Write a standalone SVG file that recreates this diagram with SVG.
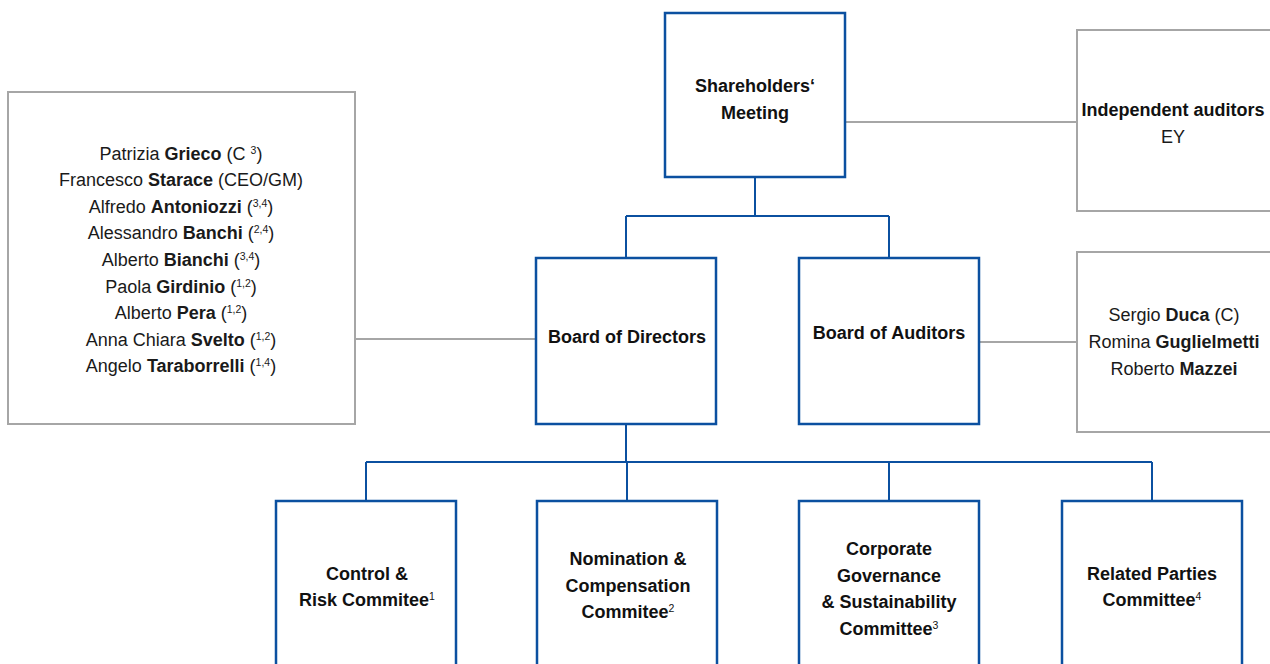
<svg xmlns="http://www.w3.org/2000/svg" width="1270" height="664" viewBox="0 0 1270 664">
<style>
.bx{fill:#fff;stroke:#0b50a0;stroke-width:2.5}
.gb{fill:#fff;stroke:#a6a6a6;stroke-width:2}
.bl{fill:none;stroke:#0b50a0;stroke-width:2}
.gl{fill:none;stroke:#a6a6a6;stroke-width:2}
.t{font-family:"Liberation Sans",Arial,sans-serif;font-size:18px;text-anchor:middle;fill:#1a1a1a}
.h{font-family:"Liberation Sans",Arial,sans-serif;font-size:18px;font-weight:bold;text-anchor:middle;fill:#111}
.b{font-weight:bold}
.s{font-size:10.5px}
</style>
<rect width="1270" height="664" fill="#fff"/>
<g id="connectors">
<path class="bl" d="M755 177V216M626 216H889M626 216V258M889 216V258"/>
<path class="bl" d="M626 424V462M366 462H1152M366 462V501M627 462V501M889 462V501M1152 462V501"/>
<path class="gl" d="M355 339H536M845 122H1077M979 342H1077"/>
</g>
<g id="shareholders">
<rect class="bx" x="665" y="13" width="180" height="164"/>
<text class="h" x="755" y="91.5">Shareholders‘</text>
<text class="h" x="755" y="118.5">Meeting</text>
</g>
<g id="independent-auditors">
<rect class="gb" x="1077" y="30" width="230" height="181"/>
<text class="h" x="1173" y="115.5">Independent auditors</text>
<text class="t" x="1173" y="142.5">EY</text>
</g>
<g id="directors-list">
<rect class="gb" x="8" y="92" width="347" height="332"/>
<text class="t" x="181" y="159.5">Patrizia <tspan class="b">Grieco</tspan> (C <tspan class="s" dy="-6">3</tspan><tspan dy="6">)</tspan></text>
<text class="t" x="181" y="186.1">Francesco <tspan class="b">Starace</tspan> (CEO/GM)</text>
<text class="t" x="181" y="212.7">Alfredo <tspan class="b">Antoniozzi</tspan> (<tspan class="s" dy="-6">3,4</tspan><tspan dy="6">)</tspan></text>
<text class="t" x="181" y="239.3">Alessandro <tspan class="b">Banchi</tspan> (<tspan class="s" dy="-6">2,4</tspan><tspan dy="6">)</tspan></text>
<text class="t" x="181" y="265.9">Alberto <tspan class="b">Bianchi</tspan> (<tspan class="s" dy="-6">3,4</tspan><tspan dy="6">)</tspan></text>
<text class="t" x="181" y="292.5">Paola <tspan class="b">Girdinio</tspan> (<tspan class="s" dy="-6">1,2</tspan><tspan dy="6">)</tspan></text>
<text class="t" x="181" y="319.1">Alberto <tspan class="b">Pera</tspan> (<tspan class="s" dy="-6">1,2</tspan><tspan dy="6">)</tspan></text>
<text class="t" x="181" y="345.7">Anna Chiara <tspan class="b">Svelto</tspan> (<tspan class="s" dy="-6">1,2</tspan><tspan dy="6">)</tspan></text>
<text class="t" x="181" y="372.3">Angelo <tspan class="b">Taraborrelli</tspan> (<tspan class="s" dy="-6">1,4</tspan><tspan dy="6">)</tspan></text>
</g>
<g id="board-of-directors">
<rect class="bx" x="536" y="258" width="180" height="166"/>
<text class="h" x="627" y="342.5">Board of Directors</text>
</g>
<g id="board-of-auditors">
<rect class="bx" x="799" y="258" width="180" height="166"/>
<text class="h" x="889" y="338.5">Board of Auditors</text>
</g>
<g id="auditors-list">
<rect class="gb" x="1077" y="252" width="230" height="180"/>
<text class="t" x="1174" y="320.5">Sergio <tspan class="b">Duca</tspan> (C)</text>
<text class="t" x="1174" y="347.5">Romina <tspan class="b">Guglielmetti</tspan></text>
<text class="t" x="1174" y="374.5">Roberto <tspan class="b">Mazzei</tspan></text>
</g>
<g id="control-risk">
<rect class="bx" x="276" y="501" width="180" height="200"/>
<text class="h" x="367" y="579.5">Control &amp;</text>
<text class="h" x="367" y="605.5">Risk Commitee<tspan class="s" font-weight="normal" dy="-6">1</tspan></text>
</g>
<g id="nomination-compensation">
<rect class="bx" x="537" y="501" width="180" height="200"/>
<text class="h" x="628" y="564.5">Nomination &amp;</text>
<text class="h" x="628" y="591.5">Compensation</text>
<text class="h" x="628" y="617.5">Commitee<tspan class="s" font-weight="normal" dy="-6">2</tspan></text>
</g>
<g id="corporate-governance">
<rect class="bx" x="799" y="501" width="180" height="200"/>
<text class="h" x="889" y="554.5">Corporate</text>
<text class="h" x="889" y="581.5">Governance</text>
<text class="h" x="889" y="607.5">&amp; Sustainability</text>
<text class="h" x="889" y="634.5">Committee<tspan class="s" font-weight="normal" dy="-6">3</tspan></text>
</g>
<g id="related-parties">
<rect class="bx" x="1062" y="501" width="180" height="200"/>
<text class="h" x="1152" y="579.5">Related Parties</text>
<text class="h" x="1152" y="605.5">Committee<tspan class="s" font-weight="normal" dy="-6">4</tspan></text>
</g>
</svg>
